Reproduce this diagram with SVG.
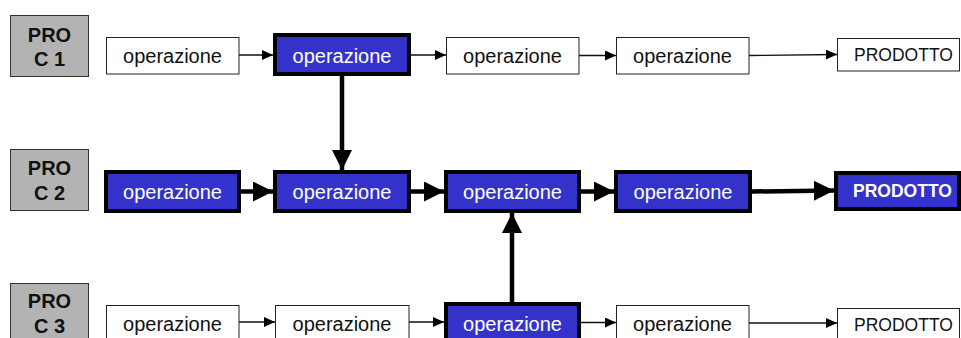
<svg xmlns="http://www.w3.org/2000/svg" width="961" height="338" viewBox="0 0 961 338">
<style>
text{font-family:"Liberation Sans",Arial,sans-serif;text-anchor:middle}
.proc rect{fill:#b3b3b3;stroke:#333;stroke-width:1}
.proc text{font-size:20px;font-weight:bold;fill:#111}
.thin rect{fill:#fff;stroke:#222;stroke-width:1}
.thin text{font-size:20px;fill:#111}
.thick rect{fill:#3333cc;stroke:#000;stroke-width:4}
.thick text{font-size:20px;fill:#fff}
.prod text{font-size:17.5px}
.cl{stroke:#111;stroke-width:1.3;fill:none;marker-end:url(#ah)}
.ck{stroke:#000;stroke-width:4.5;fill:none;marker-end:url(#ak)}
</style>
<defs>
<marker id="ah" markerUnits="userSpaceOnUse" markerWidth="11" markerHeight="10" refX="11" refY="5" orient="auto"><path d="M0,0L11,5L0,10z" fill="#000"/></marker>
<marker id="ak" markerUnits="userSpaceOnUse" markerWidth="20" markerHeight="20" refX="20" refY="10" orient="auto"><path d="M0,0L20,10L0,20z" fill="#000"/></marker>
</defs>
<rect width="961" height="338" fill="#fff"/>
<g id="connectors">
<line class="cl" x1="239" y1="55" x2="273" y2="55"/>
<line class="cl" x1="411" y1="55" x2="446" y2="55"/>
<line class="cl" x1="579" y1="55.5" x2="616" y2="55.5"/>
<line class="cl" x1="749" y1="55.5" x2="837" y2="54.5"/>
<line class="ck" x1="342" y1="76" x2="342" y2="170"/>
<line class="ck" x1="241" y1="191.5" x2="273" y2="191.5"/>
<line class="ck" x1="411" y1="191.5" x2="444" y2="191.5"/>
<line class="ck" x1="581" y1="191.5" x2="614" y2="191.5"/>
<line class="ck" x1="752" y1="191.5" x2="834" y2="190.5"/>
<line class="ck" x1="512" y1="302" x2="512" y2="213"/>
<line class="cl" x1="239" y1="322" x2="275" y2="322"/>
<line class="cl" x1="409" y1="322" x2="444" y2="322"/>
<line class="cl" x1="581" y1="322.5" x2="616" y2="322.5"/>
<line class="cl" x1="749" y1="323" x2="837" y2="323"/>
</g>
<g id="proc1" class="proc"><rect x="10.5" y="15.5" width="78" height="61"/><text x="49.5" y="42">PRO</text><text x="49.5" y="66">C 1</text></g>
<g id="proc2" class="proc"><rect x="10.5" y="149.5" width="78" height="61"/><text x="49.5" y="175">PRO</text><text x="49.5" y="200">C 2</text></g>
<g id="proc3" class="proc"><rect x="10.5" y="283.5" width="78" height="64"/><text x="49.5" y="308">PRO</text><text x="49.5" y="333">C 3</text></g>

<g id="r1op1" class="thin"><rect x="106.5" y="37.5" width="132.5" height="36.5"/><text x="172.5" y="62.5">operazione</text></g>
<g id="r1op2" class="thick"><rect x="275" y="35" width="134" height="39"/><text x="342" y="62.5">operazione</text></g>
<g id="r1op3" class="thin"><rect x="446.5" y="37.5" width="132.5" height="36.5"/><text x="512.5" y="62.5">operazione</text></g>
<g id="r1op4" class="thin"><rect x="616.5" y="37.5" width="132.5" height="36.5"/><text x="682.5" y="62.5">operazione</text></g>
<g id="r1prod" class="thin prod"><rect x="837.5" y="38.5" width="122" height="32.5"/><text x="903.5" y="61">PRODOTTO</text></g>

<g id="r2op1" class="thick"><rect x="106" y="172" width="133" height="39"/><text x="172.5" y="199">operazione</text></g>
<g id="r2op2" class="thick"><rect x="275" y="172" width="134" height="39"/><text x="342" y="199">operazione</text></g>
<g id="r2op3" class="thick"><rect x="446" y="172" width="133" height="39"/><text x="512.5" y="199">operazione</text></g>
<g id="r2op4" class="thick"><rect x="616" y="172" width="134" height="39"/><text x="683" y="199">operazione</text></g>
<g id="r2prod" class="thick prod"><rect x="836" y="173" width="123" height="36"/><text x="902.5" y="197" font-weight="bold">PRODOTTO</text></g>

<g id="r3op1" class="thin"><rect x="106.5" y="305.5" width="132.5" height="40"/><text x="172.5" y="330.5">operazione</text></g>
<g id="r3op2" class="thin"><rect x="275.5" y="305.5" width="133.5" height="40"/><text x="342" y="330.5">operazione</text></g>
<g id="r3op3" class="thick"><rect x="446" y="304" width="133" height="42"/><text x="512.5" y="330.5">operazione</text></g>
<g id="r3op4" class="thin"><rect x="616.5" y="305.5" width="132.5" height="40"/><text x="682.5" y="330.5">operazione</text></g>
<g id="r3prod" class="thin prod"><rect x="837.5" y="308.5" width="122" height="36"/><text x="903.5" y="331">PRODOTTO</text></g>
</svg>
